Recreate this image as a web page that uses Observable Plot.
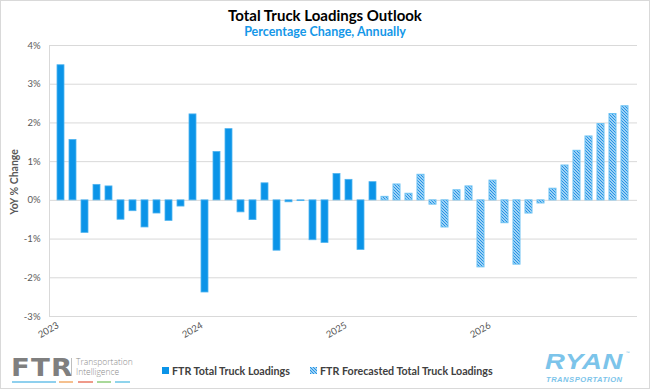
<!DOCTYPE html>
<html>
<head>
<meta charset="utf-8">
<script src="https://cdn.jsdelivr.net/npm/d3@7"></script>
<script src="https://cdn.jsdelivr.net/npm/@observablehq/plot@0.6"></script>
<style>
  html, body { margin: 0; padding: 0; background: #fff; }
  #wrap { position: relative; width: 650px; height: 389px; overflow: hidden; font-family: Lato, "Open Sans", sans-serif; }
  #border { position: absolute; left: 0; top: 0; width: 650px; height: 389px; box-sizing: border-box; border: 1px solid #d9d9d9; pointer-events: none; }
  #chart { position: absolute; left: 0; top: 0; }
  .title { position: absolute; left: 0; width: 650px; text-align: center; font-weight: bold; white-space: nowrap; }
  #ylab { position: absolute; left: 14px; top: 182px; transform: translate(-50%, -50%) rotate(-90deg); font-size: 10.5px; font-weight: bold; color: #595959; white-space: nowrap; }
  .leg { position: absolute; top: 364px; font-size: 10.7px; font-weight: bold; color: #404040; white-space: nowrap; display: flex; align-items: center; }
  .leg svg { margin-right: 3px; }
  .logo { position: absolute; white-space: nowrap; line-height: 1; }
</style>
</head>
<body>
<div id="wrap">
  <div class="title" style="top:6px;font-size:15px;color:#000;">Total Truck Loadings Outlook</div>
  <div class="title" style="top:24px;font-size:12.5px;color:#1497e8;">Percentage Change, Annually</div>
  <div id="chart"></div>
  <div id="ylab">YoY % Change</div>
  <div class="leg" style="left:162px;"><svg width="7" height="7"><rect width="7" height="7" fill="#0b94e8"/></svg>FTR Total Truck Loadings</div>
  <div class="leg" style="left:310px;"><svg width="7" height="7"><defs><pattern id="hatchLeg" width="3" height="3" patternUnits="userSpaceOnUse"><rect width="3" height="3" fill="#d5ecfb"/><path d="M-1,-1 L4,4 M-1,2 L1,4 M2,-1 L4,1" stroke="#1a8fe4" stroke-width="1.1"/></pattern></defs><rect width="7" height="7" fill="url(#hatchLeg)"/></svg>FTR Forecasted Total Truck Loadings</div>
  <!-- FTR logo -->
  <div class="logo" style="left:11px;top:356px;font-family:'DejaVu Sans',sans-serif;font-weight:bold;font-size:24px;letter-spacing:1px;color:#7f7f7f;transform:scaleX(1.15);transform-origin:left;">FTR</div>
  <div style="position:absolute;left:71px;top:358px;width:1px;height:18px;background:#bfbfbf;"></div>
  <div class="logo" style="left:76px;top:357px;font-size:8.5px;line-height:10px;color:#8c8c8c;font-family:'Open Sans',sans-serif;font-weight:300;">Transportation<br>Intelligence</div>
  <div style="position:absolute;left:12px;top:381px;width:44px;height:2px;background:#8fd0ee;"></div>
  <div style="position:absolute;left:59px;top:381px;width:14px;height:2px;background:#f5c08f;"></div>
  <div style="position:absolute;left:78px;top:381px;width:15px;height:2px;background:#ef9a8a;"></div>
  <div style="position:absolute;left:97px;top:381px;width:14px;height:2px;background:#a9d99a;"></div>
  <div style="position:absolute;left:115px;top:381px;width:15px;height:2px;background:#8fd4ec;"></div>
  <!-- RYAN logo -->
  <div class="logo" style="left:545px;top:351px;font-family:'Liberation Sans',sans-serif;font-weight:bold;font-style:italic;font-size:22px;letter-spacing:0.5px;color:#7cc4ea;transform:scaleX(1.25);transform-origin:left;">RYAN</div>
  <div class="logo" style="left:626px;top:351px;font-size:5px;color:#7cc4ea;">™</div>
  <div class="logo" style="left:546px;top:376px;font-family:'Liberation Sans',sans-serif;font-weight:bold;font-style:italic;font-size:7.6px;letter-spacing:0.5px;color:#7cc4ea;">TRANSPORTATION</div>
  <div id="border"></div>
</div>
<script>
const years = [2023, 2024, 2025, 2026];
const monthNames = ["01","02","03","04","05","06","07","08","09","10","11","12"];
const categories = years.flatMap(y => monthNames.map(m => `${y}-${m}`));

// FTR Total Truck Loadings, YoY % change (actual), Jan 2023 – Mar 2025
const actualValues = [3.49, 1.56, -0.84, 0.40, 0.36, -0.50, -0.28, -0.70, -0.34, -0.53, -0.16, 2.22,
  -2.38, 1.25, 1.84, -0.31, -0.51, 0.44, -1.30, -0.05, -0.02, -1.03, -1.10, 0.68,
  0.53, -1.28, 0.47];
// FTR Forecasted Total Truck Loadings, Apr 2025 – Dec 2026
const forecastValues = [0.09, 0.41, 0.17, 0.66, -0.11, -0.70, 0.26, 0.36, -1.73,
  0.51, -0.59, -1.66, -0.34, -0.08, 0.30, 0.90, 1.28, 1.65, 1.97, 2.23, 2.43];
const yTicks = [-3, -2, -1, 0, 1, 2, 3, 4];

const actual = actualValues.map((v, i) => ({month: categories[i], value: v}));
const forecast = forecastValues.map((v, i) => ({month: categories[actualValues.length + i], value: v}));
const yearStarts = years.map(y => `${y}-01`);

const chart = Plot.plot({
  width: 650,
  height: 345,
  marginTop: 45,
  marginBottom: 29,
  marginLeft: 49,
  marginRight: 13,
  style: {fontFamily: "Lato, 'Open Sans', sans-serif", background: "transparent"},
  x: {domain: categories, paddingInner: 0.39, paddingOuter: 0.195, label: null},
  y: {domain: [-3, 4], ticks: yTicks, label: null},
  marks: [
    Plot.gridY(yTicks, {stroke: "#d9d9d9", strokeOpacity: 1}),
    Plot.frame({anchor: "left", stroke: "#d9d9d9"}),
    Plot.axisY(yTicks, {tickSize: 0, tickPadding: 9, tickFormat: d => d + "%", fontSize: 9.5, fill: "#595959"}),
    Plot.axisX(yearStarts, {tickSize: 0, tickPadding: 8, dx: -3, tickRotate: -30, tickFormat: d => d.slice(0, 4), fontSize: 9.5, fill: "#595959"}),
    Plot.barY(actual, {x: "month", y: "value", fill: "#0b94e8", stroke: "#4fb3ef", strokeWidth: 0.8}),
    Plot.barY(forecast, {x: "month", y: "value", fill: "url(#hatch)", stroke: "#6cc2f3", strokeWidth: 1})
  ]
});

const defs = d3.select(chart).insert("defs", ":first-child");
const pat = defs.append("pattern").attr("id", "hatch").attr("width", 3).attr("height", 3).attr("patternUnits", "userSpaceOnUse");
pat.append("rect").attr("width", 3).attr("height", 3).attr("fill", "#d5ecfb");
pat.append("path").attr("d", "M-1,-1 L4,4 M-1,2 L1,4 M2,-1 L4,1").attr("stroke", "#1a8fe4").attr("stroke-width", 1.1);

document.getElementById("chart").appendChild(chart);
</script>
</body>
</html>
